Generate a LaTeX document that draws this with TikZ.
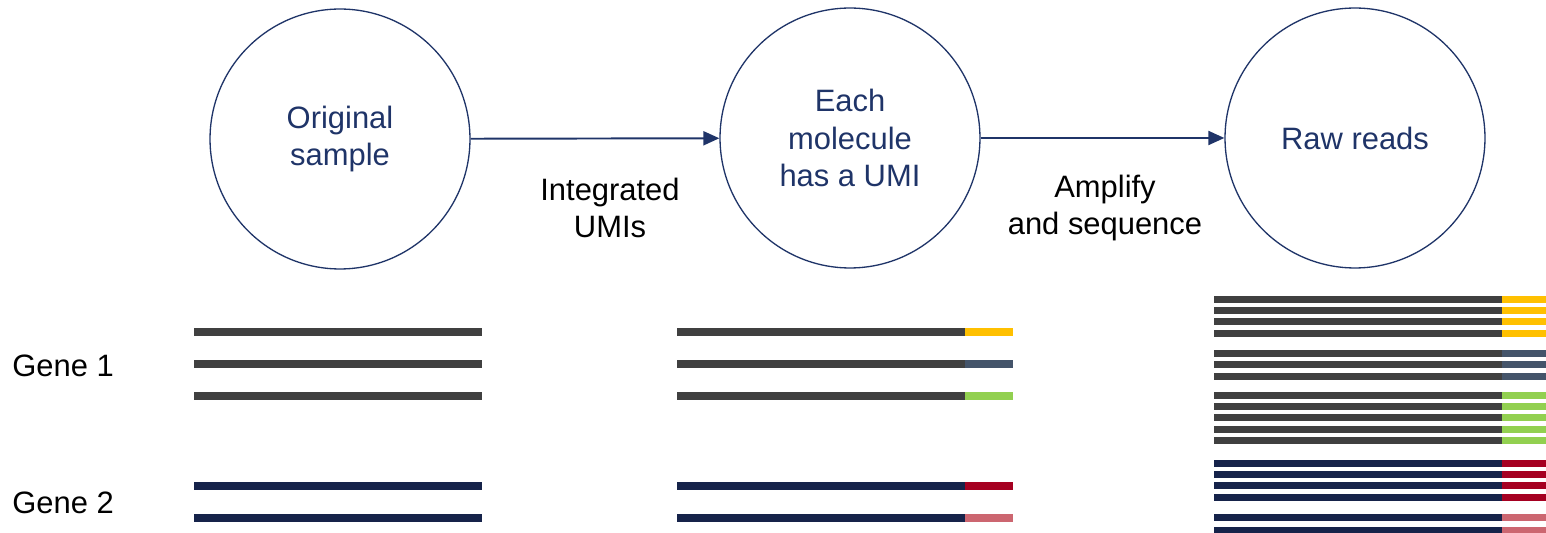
\documentclass[tikz,border=0pt]{standalone}
\usepackage{fontspec}
\setmainfont{Liberation Sans}
\usetikzlibrary{arrows.meta,positioning}
\definecolor{umiNavy}{HTML}{1F3468}
\definecolor{barGray}{HTML}{404040}
\definecolor{barNavy}{HTML}{16234A}
\definecolor{umiYellow}{HTML}{FFC000}
\definecolor{umiSlate}{HTML}{44546A}
\definecolor{umiGreen}{HTML}{92D050}
\definecolor{umiRed}{HTML}{A50021}
\definecolor{umiPink}{HTML}{CC6670}
\newcommand{\diagfont}{\fontsize{17.6}{21.5}\selectfont}

\begin{document}
\begin{tikzpicture}[x=0.02cm,y=-0.02cm,
  >={Triangle[length=0.32cm,width=0.28cm]},
  stage/.style={draw=umiNavy,circle,line width=0.75pt,minimum size=5.2cm,inner sep=0pt,align=center,text=umiNavy,font=\diagfont},
  steplab/.style={align=center,font=\diagfont},
  genelab/.style={anchor=west,font=\diagfont,inner sep=0pt},
  arrow/.style={->,umiNavy,line width=1.1pt},
  bar/.style={line width=0.16cm},
  thinbar/.style={line width=0.14cm}
]
\useasboundingbox (0,0) rectangle (1546,533);
\node[stage] (orig) at (340,139) {Original\\sample};
\node[stage] (umi) at (850,138) {Each\\molecule\\has a UMI};
\node[stage] (raw) at (1355,138) {Raw reads};
\draw[arrow] (orig) -- (umi);
\draw[arrow] (umi) -- (raw);
\node[steplab] (integ) at (610,208) {Integrated\\UMIs};
\node[steplab] (ampl) at (1105,208) {Amplify\\and sequence};
\node[genelab] (g1) at (12,366) {Gene 1};
\node[genelab] (g2) at (12,503) {Gene 2};
% original molecules
\foreach \y/\b in {332/barGray,364/barGray,396/barGray,486/barNavy,518/barNavy}
  \draw[bar,\b] (194,\y) -- (482,\y);
% tagged molecules
\foreach \y/\b/\c in {332/barGray/umiYellow,364/barGray/umiSlate,396/barGray/umiGreen,486/barNavy/umiRed,518/barNavy/umiPink}
  {\draw[bar,\b] (677,\y) -- (965,\y); \draw[bar,\c] (965,\y) -- (1013,\y);}
% reads
\foreach \y/\b/\c in {300/barGray/umiYellow,311/barGray/umiYellow,322/barGray/umiYellow,334/barGray/umiYellow,
  354/barGray/umiSlate,365/barGray/umiSlate,377/barGray/umiSlate,
  396/barGray/umiGreen,407/barGray/umiGreen,418/barGray/umiGreen,430/barGray/umiGreen,441/barGray/umiGreen,
  464/barNavy/umiRed,475/barNavy/umiRed,486/barNavy/umiRed,498/barNavy/umiRed,
  518/barNavy/umiPink,530/barNavy/umiPink}
  {\draw[thinbar,\b] (1214,\y) -- (1502,\y); \draw[thinbar,\c] (1502,\y) -- (1546,\y);}
\end{tikzpicture}
\end{document}
